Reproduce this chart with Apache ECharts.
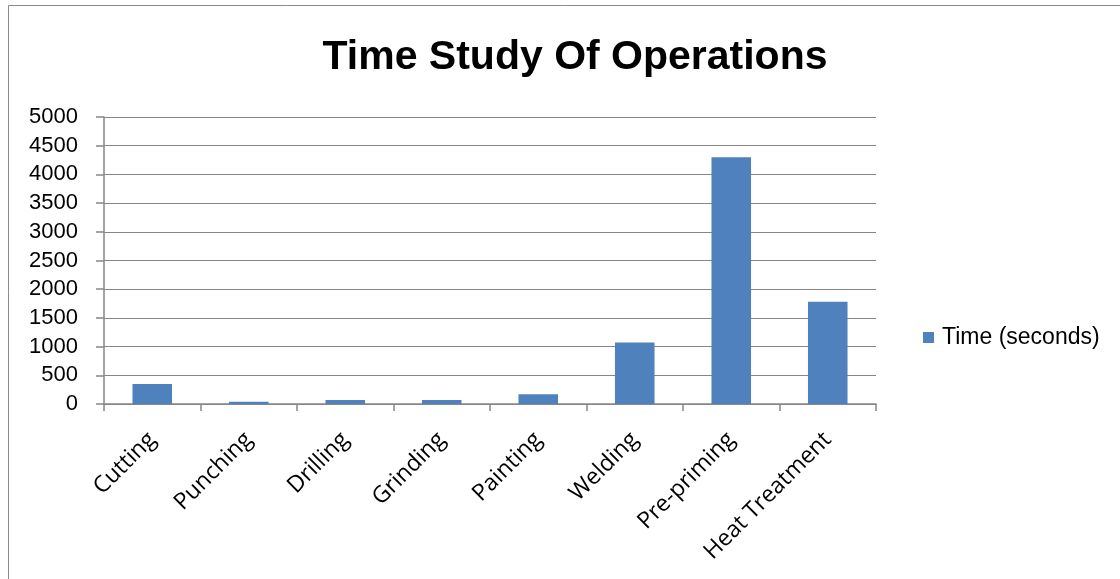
<!DOCTYPE html>
<html>
<head>
<meta charset="utf-8">
<script src="https://cdn.jsdelivr.net/npm/echarts@6/dist/echarts.min.js"></script>
<style>
html,body{margin:0;padding:0;background:#fff;}
#chart{width:1120px;height:579px;}
</style>
</head>
<body>
<div id="chart"></div>
<script>
var categories = ['Cutting', 'Punching', 'Drilling', 'Grinding', 'Painting', 'Welding', 'Pre-priming', 'Heat Treatment'];
var timeSeconds = [350, 40, 70, 70, 170, 1070, 4300, 1780];
var seriesName = 'Time (seconds)';
var chartTitle = 'Time Study Of Operations';

var chart = echarts.init(document.getElementById('chart'));
chart.setOption({
  animation: false,
  backgroundColor: '#ffffff',
  graphic: [{
    type: 'rect',
    shape: { x: 8.5, y: 5.5, width: 1130, height: 600 },
    style: { fill: 'none', stroke: '#8a8a8a', lineWidth: 1 },
    silent: true
  }],
  title: {
    text: chartTitle,
    left: 570,
    textAlign: 'center',
    top: 32,
    textStyle: {
      fontFamily: 'Liberation Sans',
      fontWeight: 'bold',
      fontSize: 41,
      color: '#000'
    }
  },
  legend: {
    orient: 'vertical',
    left: 918,
    top: 321,
    itemWidth: 11,
    itemHeight: 11,
    itemGap: 5,
    icon: 'rect',
    textStyle: { fontFamily: 'Liberation Sans', fontSize: 23, color: '#000', padding: [0, 0, 0, 3] },
    data: [seriesName]
  },
  grid: { left: 104, right: 244, top: 117, bottom: 175, containLabel: false },
  xAxis: {
    type: 'category',
    data: categories,
    axisLine: { lineStyle: { color: '#868686', width: 1.5 } },
    axisTick: { show: true, alignWithLabel: false, length: 7, lineStyle: { color: '#868686', width: 1.5 } },
    axisLabel: {
      rotate: 45,
      margin: 32,
      interval: 0,
      fontFamily: 'Open Sans',
      fontSize: 23,
      color: '#000'
    }
  },
  yAxis: {
    type: 'value',
    min: 0,
    max: 5000,
    interval: 500,
    axisLine: { show: true, lineStyle: { color: '#868686', width: 1.5 } },
    axisTick: { show: true, length: 8, lineStyle: { color: '#868686', width: 1.5 } },
    splitLine: { show: true, lineStyle: { color: '#868686', width: 1.2 } },
    axisLabel: {
      margin: 26,
      fontFamily: 'Liberation Sans',
      fontSize: 22,
      color: '#000',
      formatter: function (v) { return String(v); }
    }
  },
  series: [{
    name: seriesName,
    type: 'bar',
    data: timeSeconds,
    barWidth: '41%',
    itemStyle: { color: '#4F81BD' }
  }]
});
</script>
</body>
</html>
